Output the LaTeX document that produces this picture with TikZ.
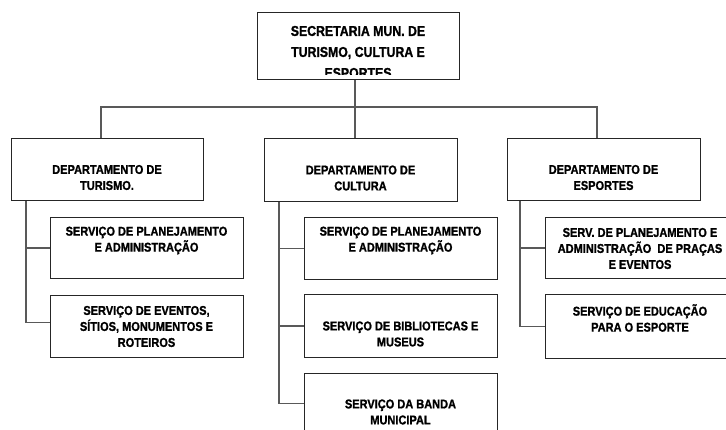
\documentclass[tikz,border=0pt]{standalone}
\usepackage{fontspec}
\setmainfont{Liberation Sans}[BoldFeatures={FakeStretch=0.86,FakeBold=1.2}]
\newcommand\orgfont{\bfseries}
\begin{document}
\begin{tikzpicture}[x=1pt,y=-1pt,
  box/.style={draw=black!85,line width=1pt,fill=white,inner sep=0pt,anchor=north west},
  txt/.style={align=center,inner sep=0pt,font=\orgfont\fontsize{12.8}{16}\selectfont},
  toptxt/.style={align=center,inner sep=0pt,font=\orgfont\fontsize{14.3}{21}\selectfont},
  conn/.style={draw=black!65,line width=1.3pt}]
\useasboundingbox (0,0) rectangle (726,430);
% top box
\node[box,minimum width=202pt,minimum height=67pt] (top) at (257,12) {};
\begin{scope}
\clip (257,12) rectangle (459,75);
\node[toptxt] (topt) at (358,52) {SECRETARIA MUN. DE\\TURISMO, CULTURA E\\ESPORTES};
\end{scope}
% departments
\node[box,minimum width=192pt,minimum height=62pt] (tur) at (11,138) {};
\node[txt] (turt) at (107,177.5) {DEPARTAMENTO DE\\TURISMO.};
\node[box,minimum width=193pt,minimum height=63pt] (cul) at (264,138) {};
\node[txt] (cult) at (360.5,178) {DEPARTAMENTO DE\\CULTURA};
\node[box,minimum width=193pt,minimum height=62pt] (esp) at (507,138) {};
\node[txt] (espt) at (603.5,177.5) {DEPARTAMENTO DE\\ESPORTES};
% turismo services
\node[box,minimum width=193pt,minimum height=61pt] (ts1) at (50,217) {};
\node[txt] (ts1t) at (146.5,240.5) {SERVIÇO DE PLANEJAMENTO\\E ADMINISTRAÇÃO};
\node[box,minimum width=193pt,minimum height=62pt] (ts2) at (50,295) {};
\node[txt] (ts2t) at (146.5,326.5) {SERVIÇO DE EVENTOS,\\SÍTIOS, MONUMENTOS E\\ROTEIROS};
% cultura services
\node[box,minimum width=193pt,minimum height=62pt] (cs1) at (304,217) {};
\node[txt] (cs1t) at (400.5,240.5) {SERVIÇO DE PLANEJAMENTO\\E ADMINISTRAÇÃO};
\node[box,minimum width=193pt,minimum height=63pt] (cs2) at (304,294) {};
\node[txt] (cs2t) at (400.5,334) {SERVIÇO DE BIBLIOTECAS E\\MUSEUS};
\node[box,minimum width=193pt,minimum height=60pt] (cs3) at (304,373) {};
\node[txt] (cs3t) at (400.5,412) {SERVIÇO DA BANDA\\MUNICIPAL};
% esportes services
\node[box,minimum width=193pt,minimum height=61pt] (es1) at (545,217) {};
\node[txt] (es1t) at (640,248.5) {SERV. DE PLANEJAMENTO E\\ADMINISTRAÇÃO\ \ DE PRAÇAS\\E EVENTOS};
\node[box,minimum width=193pt,minimum height=64pt] (es2) at (545,294) {};
\node[txt] (es2t) at (640,318) {SERVIÇO DE EDUCAÇÃO\\PARA O ESPORTE};
% connectors top
\coordinate (busL) at (101,107);
\coordinate (busM) at (355,107);
\coordinate (busR) at (597,107);
\draw[conn] (top.south -| busM) -- (cul.north -| busM);
\draw[conn] (tur.north -| busL) -- (busL) -- (busR) -- (esp.north -| busR);
% turismo branches
\coordinate (tv) at (26,0);
\draw[conn] (tur.south -| tv) |- ([yshift=4pt]ts2.west);
\draw[conn] (ts1.west -| tv) -- (ts1.west);
% cultura branches
\coordinate (cv) at (279,0);
\draw[conn] (cul.south -| cv) |- (cs3.west);
\draw[conn] (cs1.west -| cv) -- (cs1.west);
\draw[conn] (cs2.west -| cv) -- (cs2.west);
% esportes branches
\coordinate (ev) at (520,0);
\draw[conn] (esp.south -| ev) |- (es2.west);
\draw[conn] (es1.west -| ev) -- (es1.west);
\end{tikzpicture}
\end{document}
